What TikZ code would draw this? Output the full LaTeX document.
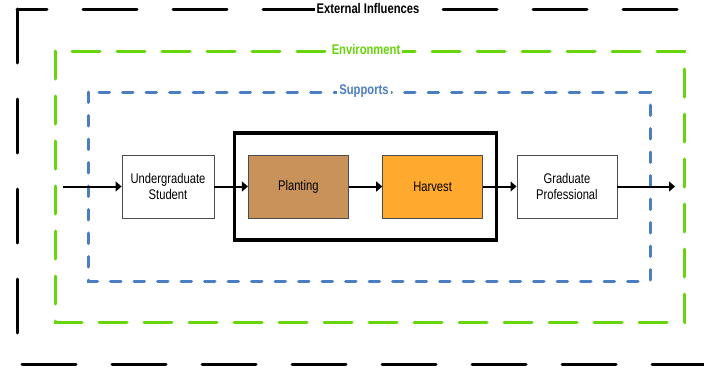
\documentclass[tikz,border=0pt]{standalone}
\usepackage{fontspec}
\setmainfont{Liberation Sans}
\newfontfamily\narrowfont[FakeStretch=0.8]{Liberation Sans}
\usetikzlibrary{positioning,arrows.meta,fit}
\definecolor{envgreen}{RGB}{102,214,10}
\definecolor{supblue}{RGB}{74,126,193}
\definecolor{plantbrown}{RGB}{200,146,90}
\definecolor{harvorange}{RGB}{255,170,46}
\tikzset{node distance=33.5pt, auto,
  stage/.style={draw=black!70, line width=0.8pt, minimum width=100pt,
    minimum height=63pt, align=center,
    font=\narrowfont\fontsize{14}{16}\selectfont},
  flow/.style={-{Triangle[length=6pt,width=10pt]}, line width=2pt},
  ring/.style={line width=3pt, line cap=round},
  ringlabel/.style={fill=white, inner xsep=2pt, inner ysep=1pt,
    font=\narrowfont\bfseries\fontsize{14}{16}\selectfont}}

\begin{document}
\begin{tikzpicture}[x=1pt,y=-1pt]
  \clip (0,0) rectangle (704,367);
  \fill[white] (0,0) rectangle (704,367);

  % nested frames
  \draw[ring, dash pattern=on 54pt off 36pt] (17,9) rectangle (712,364);
  \draw[ring, envgreen, dash pattern=on 28pt off 17pt] (55,51) rectangle (684,322);
  \draw[ring, supblue, dash pattern=on 10.5pt off 13pt] (88,92) rectangle (650,281);

  \node (ext) [ringlabel] at (368,8) {External Influences};
  \node (env) [ringlabel, text=envgreen] at (366,49) {Environment};
  \node (sup) [ringlabel, text=supblue] at (364,91) {Supports};

  % stages
  \node (ug) [stage, minimum width=92pt] at (168,186.5) {Undergraduate\\Student};
  \node (plant) [stage, fill=plantbrown, right=of ug] {Planting};
  \node (harv) [stage, fill=harvorange, right=of plant] {Harvest};
  \node (grad) [stage, right=of harv] {Graduate\\Professional};

  \node (core) [draw, line width=3.5pt, inner xsep=13.5pt, inner ysep=21.5pt,
    fit=(plant) (harv)] {};

  \coordinate (start) at (63,186.5);
  \coordinate (finish) at (675,186.5);

  \draw[flow] (start) -- (ug);
  \draw[flow] (ug) -- (plant);
  \draw[flow] (plant) -- (harv);
  \draw[flow] (harv) -- (grad);
  \draw[flow] (grad) -- (finish);
\end{tikzpicture}
\end{document}
